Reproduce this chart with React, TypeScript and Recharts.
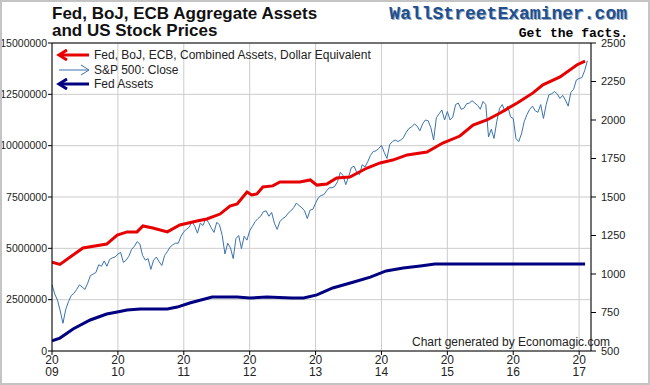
import { LineChart, Line, XAxis, YAxis, CartesianGrid, ReferenceLine } from 'recharts'

// combined Fed + BoJ + ECB assets (USD), left axis
const combinedTime = [
    2009.0, 2009.12, 2009.47, 2009.83, 2009.99, 2010.14, 2010.29, 2010.38, 2010.53, 2010.75, 2010.94,
    2011.2, 2011.35, 2011.55, 2011.7, 2011.81, 2011.96, 2012.03, 2012.11, 2012.2, 2012.35, 2012.46,
    2012.76, 2012.92, 2013.02, 2013.17, 2013.32, 2013.52, 2013.78, 2013.98, 2014.17, 2014.39, 2014.69,
    2014.93, 2015.19, 2015.39, 2015.6, 2015.8, 2016.06, 2016.3, 2016.45, 2016.71, 2016.97, 2017.09,
]
const combinedAssets = [
    4.33, 4.22, 5.02, 5.21, 5.65, 5.8, 5.8, 6.09, 5.99, 5.8, 6.14,
    6.33, 6.43, 6.67, 7.06, 7.16, 7.74, 7.6, 7.65, 7.99, 8.04, 8.23,
    8.23, 8.33, 8.08, 8.13, 8.43, 8.47, 8.91, 9.16, 9.3, 9.55, 9.69,
    10.13, 10.47, 11.0, 11.25, 11.59, 12.08, 12.57, 12.96, 13.35, 13.94, 14.12,
]

// Fed assets, left axis
const fedTime = [
    2009.0, 2009.12, 2009.32, 2009.58, 2009.83, 2009.99, 2010.14, 2010.34, 2010.75, 2010.9,
    2011.09, 2011.43, 2011.81, 2012.0, 2012.26, 2012.64, 2012.82, 2013.02, 2013.26, 2013.58,
    2013.83, 2014.07, 2014.33, 2014.59, 2014.81, 2017.09,
]
const fedAssets = [
    0.49, 0.63, 1.07, 1.51, 1.8, 1.9, 2.0, 2.05, 2.05, 2.14,
    2.34, 2.63, 2.63, 2.58, 2.63, 2.58, 2.58, 2.73, 3.07, 3.36,
    3.6, 3.9, 4.04, 4.14, 4.24, 4.24,
]

// S&P 500 close, right axis, twice a month from Jan 2009
const spxStart = 2009
const spxClose = [
    931, 870, 830, 760, 680, 770, 820, 860, 875, 900, 930, 915, 900, 940, 990, 1000, 1010, 1060, 1050, 1085, 1050, 1095, 1105, 1110,
    1130, 1140, 1075, 1090, 1115, 1160, 1180, 1210, 1195, 1120, 1090, 1100, 1030, 1090, 1110, 1080, 1055, 1120, 1145, 1175, 1190, 1200, 1200, 1245,
    1275, 1290, 1305, 1340, 1310, 1265, 1330, 1315, 1360, 1335, 1300, 1270, 1335, 1320, 1250, 1130, 1200, 1170, 1100, 1230, 1250, 1165, 1245, 1220,
    1280, 1310, 1340, 1360, 1375, 1405, 1410, 1375, 1400, 1330, 1290, 1340, 1360, 1370, 1395, 1410, 1430, 1460, 1445, 1430, 1410, 1360, 1415, 1420,
    1460, 1495, 1510, 1515, 1540, 1560, 1560, 1570, 1600, 1660, 1640, 1580, 1630, 1690, 1700, 1660, 1645, 1710, 1695, 1730, 1770, 1795, 1800, 1815,
    1835, 1790, 1750, 1840, 1860, 1870, 1860, 1870, 1885, 1920, 1945, 1955, 1975, 1960, 1930, 1975, 2000, 1995, 1950, 1870, 2015, 2040, 2065, 2000,
    2055, 2000, 2020, 2100, 2110, 2070, 2075, 2105, 2110, 2125, 2110, 2095, 2070, 2120, 2100, 1890, 1940, 1880, 1990, 2075, 2100, 2055, 2090, 2020,
    2010, 1880, 1860, 1910, 1990, 2035, 2070, 2090, 2060, 2050, 2100, 2010, 2100, 2165, 2170, 2185, 2170, 2140, 2160, 2130, 2090, 2180, 2200, 2260,
    2270, 2275, 2320, 2385,
]

const years = [2009, 2010, 2011, 2012, 2013, 2014, 2015, 2016, 2017]
const leftTicks = [0, 2500000, 5000000, 7500000, 10000000, 12500000, 15000000]
const rightTicks = [500, 750, 1000, 1250, 1500, 1750, 2000, 2250, 2500]

const combinedData = combinedTime.map((t, i) => ({ t, v: combinedAssets[i] * 1000000 }))
const fedData = fedTime.map((t, i) => ({ t, v: fedAssets[i] * 1000000 }))
const spxData = spxClose.map((v, i) => ({ t: spxStart + i / 24, v }))

const RED = '#e60000'
const NAVY = '#000080'
const STEEL = '#3a72ad'
const FONT = '"Liberation Sans", Arial, sans-serif'

function YearTick({ x, y, payload }: any) {
    const yr = String(payload.value)
    return (
        <text x={x} y={y} textAnchor="middle" fontSize={12} fill="#222" fontFamily={FONT}>
            <tspan x={x} dy={8}>{yr.slice(0, 2)}</tspan>
            <tspan x={x} dy={12}>{yr.slice(2)}</tspan>
        </text>
    )
}

function Arrow({ color, width, dir }: { color: string; width: number; dir: 'left' | 'right' }) {
    const tip = dir === 'left' ? 3 : 33
    const back = dir === 'left' ? 11 : 25
    return (
        <svg width={36} height={12} style={{ marginRight: 2 }}>
            <line x1={3} y1={6} x2={33} y2={6} stroke={color} strokeWidth={width} />
            <polyline points={`${back},1 ${tip},6 ${back},11`} fill="none" stroke={color} strokeWidth={width} />
        </svg>
    )
}

function ChartLegend() {
    const rows = [
        { color: RED, width: 3, dir: 'left' as const, label: 'Fed, BoJ, ECB, Combined Assets, Dollar Equivalent' },
        { color: STEEL, width: 1, dir: 'right' as const, label: 'S&P 500: Close' },
        { color: NAVY, width: 3, dir: 'left' as const, label: 'Fed Assets' },
    ]
    return (
        <div style={{ fontFamily: FONT, fontSize: 12, color: '#222' }}>
            {rows.map((r) => (
                <div key={r.label} style={{ display: 'flex', alignItems: 'center', height: 14.5 }}>
                    <Arrow color={r.color} width={r.width} dir={r.dir} />
                    <span>{r.label}</span>
                </div>
            ))}
        </div>
    )
}

export default function App() {
    return (
        <div
            style={{
                position: 'absolute',
                left: 0,
                top: 0,
                width: 650,
                height: 385,
                boxSizing: 'border-box',
                border: '2px solid #c4c4c4',
                background: '#fff',
                overflow: 'hidden',
            }}
        >
            <div style={{ position: 'absolute', left: 50, top: 3, fontFamily: FONT, fontWeight: 'bold', fontSize: 17, lineHeight: '17px', color: '#111' }}>
                Fed, BoJ, ECB Aggregate Assets
                <br />
                and US Stock Prices
            </div>
            <div
                style={{
                    position: 'absolute',
                    right: 21,
                    top: 2,
                    fontFamily: '"Liberation Mono", "Courier New", monospace',
                    fontWeight: 'bold',
                    fontSize: 18,
                    color: '#1f4f8f',
                    textShadow: '1px 1px 0 #9ab',
                }}
            >
                WallStreetExaminer.com
            </div>
            <div
                style={{
                    position: 'absolute',
                    right: 20,
                    top: 24,
                    fontFamily: '"Liberation Mono", "Courier New", monospace',
                    fontWeight: 'bold',
                    fontSize: 13,
                    color: '#000',
                }}
            >
                Get the facts.
            </div>
            <div style={{ position: 'absolute', left: -2, top: -2 }}>
                <LineChart width={650} height={385} margin={{ top: 43, right: 9, bottom: 4, left: 0 }}>
                    <CartesianGrid stroke="#cccccc" yAxisId="left" />
                    <XAxis
                        dataKey="t"
                        type="number"
                        domain={[2009, 2017.18]}
                        ticks={years}
                        allowDataOverflow
                        height={30}
                        tick={<YearTick />}
                        tickSize={4}
                        tickMargin={1}
                        axisLine={{ stroke: '#000' }}
                        tickLine={{ stroke: '#000' }}
                    />
                    <YAxis
                        yAxisId="left"
                        domain={[0, 15000000]}
                        ticks={leftTicks}
                        width={52}
                        tickSize={4}
                        tickMargin={1}
                        tick={{ fontSize: 10.5, fill: '#222', fontFamily: FONT }}
                        axisLine={{ stroke: '#000' }}
                        tickLine={{ stroke: '#000' }}
                    />
                    <YAxis
                        yAxisId="right"
                        orientation="right"
                        domain={[500, 2500]}
                        ticks={rightTicks}
                        width={50}
                        tickSize={5}
                        tickMargin={5}
                        tick={{ fontSize: 11, fill: '#222', fontFamily: FONT }}
                        axisLine={{ stroke: '#000' }}
                        tickLine={{ stroke: '#000' }}
                    />
                    <ReferenceLine yAxisId="left" y={15000000} stroke="#000" />
                    <Line
                        yAxisId="left"
                        data={fedData}
                        dataKey="v"
                        stroke={NAVY}
                        strokeWidth={3}
                        dot={false}
                        isAnimationActive={false}
                    />
                    <Line
                        yAxisId="right"
                        data={spxData}
                        dataKey="v"
                        stroke={STEEL}
                        strokeWidth={1}
                        dot={false}
                        isAnimationActive={false}
                    />
                    <Line
                        yAxisId="left"
                        data={combinedData}
                        dataKey="v"
                        stroke={RED}
                        strokeWidth={3}
                        dot={false}
                        isAnimationActive={false}
                    />
                </LineChart>
            </div>
            <div style={{ position: 'absolute', left: 54, top: 46 }}>
                <ChartLegend />
            </div>
            <div style={{ position: 'absolute', left: 410, top: 333, fontFamily: FONT, fontSize: 12, color: '#222' }}>
                Chart generated by Economagic.com
            </div>
        </div>
    )
}
